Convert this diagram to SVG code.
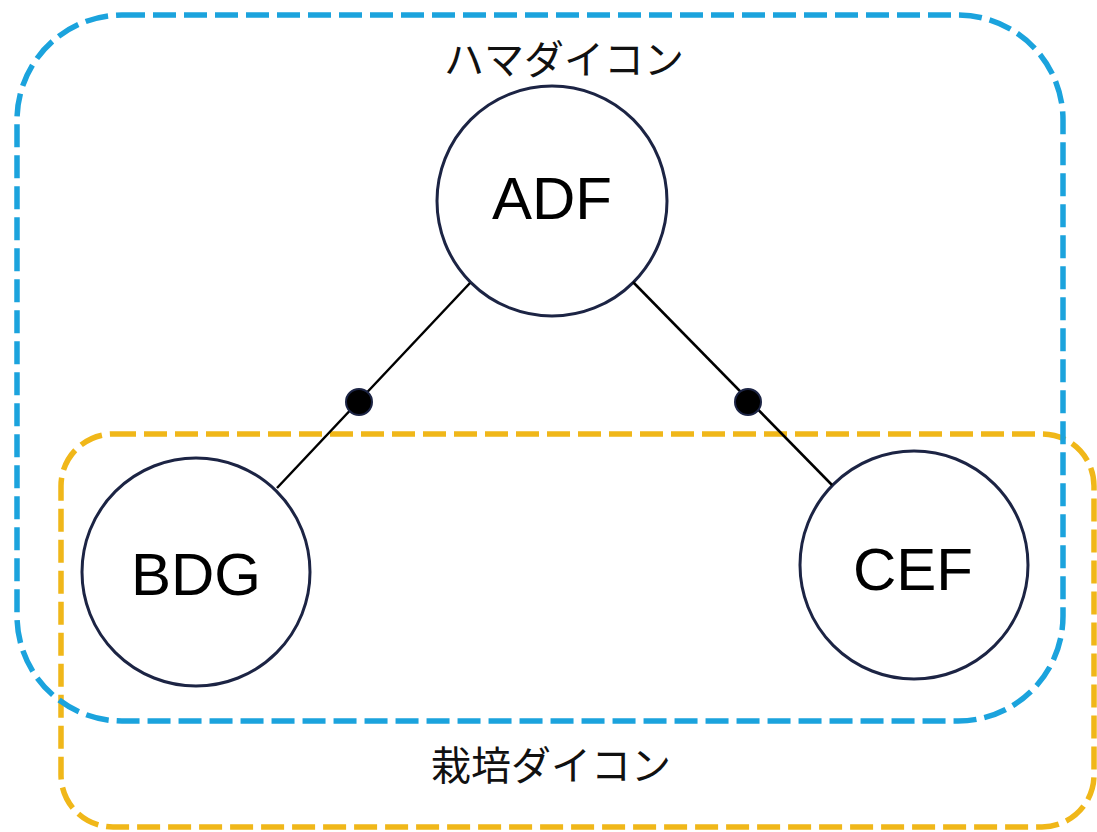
<svg xmlns="http://www.w3.org/2000/svg" width="1097" height="832" viewBox="0 0 1097 832">
  <style>
    .grp { fill: none; stroke-width: 5.5; stroke-dasharray: 23 8; }
    .blue { stroke: #1ba3dd; }
    .yellow { stroke: #f0b719; }
    .node circle { fill: #ffffff; stroke: #1c2444; stroke-width: 3; }
    .node text { font-family: "Liberation Sans", Arial, sans-serif; font-size: 60px; fill: #000000; text-anchor: middle; }
    .label { font-family: "Noto Sans CJK JP", "Noto Sans", sans-serif; font-size: 40px; fill: #111111; text-anchor: middle; }
    .edge { stroke: #000000; stroke-width: 2.5; fill: none; }
    .dot { fill: #000000; stroke: #1c2444; stroke-width: 2; }
  </style>
  <rect width="1097" height="832" fill="#ffffff"/>
  <g id="group-saibai">
    <rect class="grp yellow" x="61" y="434" width="1033" height="393" rx="52" ry="52"/>
    <text class="label" x="551" y="780">栽培ダイコン</text>
  </g>
  <g id="group-hama">
    <rect class="grp blue" x="17" y="15" width="1046" height="706" rx="105" ry="105"/>
    <text class="label" x="564" y="74">ハマダイコン</text>
  </g>
  <g id="node-ADF" class="node">
    <circle cx="552" cy="201" r="115"/>
    <text x="552" y="219">ADF</text>
  </g>
  <g id="node-BDG" class="node">
    <circle cx="196" cy="572" r="114"/>
    <text x="196" y="595">BDG</text>
  </g>
  <g id="node-CEF" class="node">
    <circle cx="914" cy="565" r="114"/>
    <text x="913" y="590">CEF</text>
  </g>
  <g id="connectors">
    <line class="edge" x1="470" y1="283" x2="277" y2="488"/>
    <line class="edge" x1="633" y1="282" x2="832" y2="485"/>
    <circle class="dot" cx="359" cy="402" r="13"/>
    <circle class="dot" cx="748" cy="402" r="13"/>
  </g>
</svg>
